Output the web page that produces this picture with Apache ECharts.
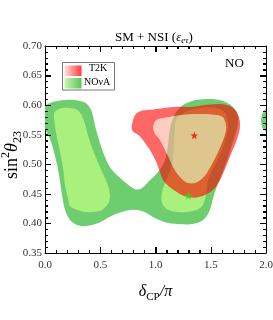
<!DOCTYPE html>
<html><head><meta charset="utf-8">
<script src="https://cdn.jsdelivr.net/npm/echarts@6/dist/echarts.min.js"></script>
<style>html,body{margin:0;padding:0;background:#fff}#c{width:273px;height:320px}</style>
</head><body><div id="c"></div>
<script>
// ---- data (delta_CP/pi, sin^2 theta23) ----
const xTickLabels = ['0.0','0.5','1.0','1.5','2.0'];
const yTickLabels = ['0.35','0.40','0.45','0.50','0.55','0.60','0.65','0.70'];

const novaOuter = [[-0.05,0.600],[0.000,0.600],[0.063,0.605],[0.136,0.608],[0.226,0.609],[0.317,0.607],[0.380,0.602],[0.425,0.588],[0.452,0.566],[0.489,0.541],[0.534,0.516],[0.588,0.495],[0.661,0.480],[0.742,0.467],[0.814,0.458],[0.878,0.460],[0.950,0.473],[1.023,0.487],[1.086,0.507],[1.113,0.533],[1.131,0.561],[1.176,0.585],[1.240,0.599],[1.330,0.607],[1.430,0.610],[1.538,0.610],[1.638,0.605],[1.710,0.595],[1.747,0.580],[1.738,0.561],[1.701,0.538],[1.647,0.507],[1.584,0.477],[1.529,0.448],[1.493,0.423],[1.439,0.407],[1.339,0.399],[1.204,0.399],[1.086,0.402],[0.995,0.409],[0.905,0.419],[0.814,0.423],[0.724,0.421],[0.606,0.413],[0.498,0.402],[0.389,0.396],[0.299,0.397],[0.226,0.406],[0.181,0.423],[0.154,0.448],[0.127,0.482],[0.100,0.507],[0.063,0.533],[0.027,0.550],[0.000,0.558],[-0.05,0.558]];
const novaOuterWrap = [[2.03,0.594],[1.985,0.591],[1.958,0.579],[1.960,0.566],[1.985,0.558],[2.03,0.556]];
const novaInnerLeft = [[0.090,0.589],[0.154,0.595],[0.226,0.595],[0.290,0.592],[0.332,0.583],[0.362,0.568],[0.392,0.547],[0.434,0.524],[0.482,0.502],[0.534,0.480],[0.573,0.462],[0.588,0.446],[0.573,0.434],[0.525,0.424],[0.468,0.420],[0.371,0.419],[0.287,0.423],[0.226,0.429],[0.211,0.440],[0.181,0.465],[0.166,0.490],[0.136,0.521],[0.106,0.547],[0.090,0.566],[0.081,0.580]];
const novaInnerRight = [[1.186,0.575],[1.267,0.588],[1.403,0.595],[1.538,0.595],[1.629,0.587],[1.656,0.566],[1.620,0.533],[1.538,0.499],[1.475,0.473],[1.457,0.448],[1.421,0.429],[1.339,0.421],[1.222,0.419],[1.113,0.423],[1.059,0.435],[1.059,0.453],[1.095,0.473],[1.149,0.499],[1.167,0.533],[1.176,0.558]];
const t2kOuter = [[0.785,0.564],[0.814,0.583],[0.869,0.590],[0.950,0.592],[1.161,0.597],[1.312,0.597],[1.430,0.600],[1.584,0.602],[1.690,0.597],[1.749,0.583],[1.765,0.564],[1.735,0.541],[1.674,0.513],[1.599,0.479],[1.523,0.457],[1.403,0.445],[1.282,0.445],[1.161,0.457],[1.071,0.473],[1.011,0.502],[0.950,0.524],[0.860,0.547],[0.799,0.555]];
const t2kInner = [[0.980,0.564],[1.011,0.575],[1.101,0.579],[1.222,0.583],[1.403,0.585],[1.584,0.582],[1.629,0.572],[1.638,0.558],[1.599,0.535],[1.538,0.510],[1.463,0.485],[1.387,0.471],[1.312,0.468],[1.252,0.473],[1.176,0.490],[1.116,0.513],[1.041,0.541],[0.995,0.552]];
const t2kBest = [1.351,0.549];
const novaBest = [1.297,0.447];

// ---- axis ranges / tick spacing ----
const X_MIN=0, X_MAX=2, X_MAJOR=0.5, X_MINOR=0.1;
const Y_MIN=0.35, Y_MAX=0.70, Y_MAJOR=0.05, Y_MINOR=0.01;

// ---- helpers ----
function area(p){let s=0;for(let i=0;i<p.length;i++){const a=p[i],b=p[(i+1)%p.length];s+=a[0]*b[1]-b[0]*a[1];}return s;}
function smooth(p){
  const n=p.length;let d='M'+p[0][0]+' '+p[0][1];
  for(let i=0;i<n;i++){
    const p0=p[(i-1+n)%n],p1=p[i],p2=p[(i+1)%n],p3=p[(i+2)%n];
    const c1=[p1[0]+(p2[0]-p0[0])/6,p1[1]+(p2[1]-p0[1])/6];
    const c2=[p2[0]-(p3[0]-p1[0])/6,p2[1]-(p3[1]-p1[1])/6];
    d+=' C'+c1[0]+' '+c1[1]+' '+c2[0]+' '+c2[1]+' '+p2[0]+' '+p2[1];
  }
  return d+' Z';
}
function region(name, outer, hole, color, z){
  return {type:'custom', name:name, coordinateSystem:'cartesian2d', clip:true, z:z, silent:true,
    data:[0],
    renderItem:function(params, api){
      const o=outer.map(q=>api.coord(q));
      let d=smooth(o);
      if(hole){
        let h=hole.map(q=>api.coord(q));
        if(Math.sign(area(h))===Math.sign(area(o))) h=h.slice().reverse();
        d+=' '+smooth(h);
      }
      return {type:'path', shape:{pathData:d}, style:{fill:color, stroke:null}};
    }};
}
// frame ticks on all four sides, positioned through the axis scales
const tickSeries={type:'custom',name:'ticks',coordinateSystem:'cartesian2d',clip:false,z:10,silent:true,data:[0],
  renderItem:function(params, api){
    const kids=[]; const st={stroke:'#000',lineWidth:1};
    const nx=Math.round((X_MAX-X_MIN)/X_MINOR), ny=Math.round((Y_MAX-Y_MIN)/Y_MINOR);
    const perX=Math.round(X_MAJOR/X_MINOR), perY=Math.round(Y_MAJOR/Y_MINOR);
    for(let i=0;i<=nx;i++){
      const v=X_MIN+i*X_MINOR, len=(i%perX===0)?6:3;
      const b=api.coord([v,Y_MIN]), t=api.coord([v,Y_MAX]);
      const x=Math.round(b[0])+0.5;
      kids.push({type:'line',shape:{x1:x,y1:b[1],x2:x,y2:b[1]-len},style:st});
      kids.push({type:'line',shape:{x1:x,y1:t[1],x2:x,y2:t[1]+len},style:st});
    }
    for(let j=0;j<=ny;j++){
      const v=Y_MIN+j*Y_MINOR, len=(j%perY===0)?6:3;
      const l=api.coord([X_MIN,v]), r=api.coord([X_MAX,v]);
      const y=Math.round(l[1])+0.5;
      kids.push({type:'line',shape:{x1:l[0],y1:y,x2:l[0]+len,y2:y},style:st});
      kids.push({type:'line',shape:{x1:r[0],y1:y,x2:r[0]-len,y2:y},style:st});
    }
    return {type:'group',children:kids};
  }};

const serif='"Liberation Serif","DejaVu Serif",serif';
const chart=echarts.init(document.getElementById('c'),null,{renderer:'canvas'});
function frameAxis(kind, labelColor, fmt){
  const ax={type:'value',
    axisLine:{show:true,onZero:false,lineStyle:{color:'#000',width:1}},
    axisTick:{show:true,inside:true,length:6,lineStyle:{color:'#000',width:1}},
    minorTick:{show:true,splitNumber:5,length:3,lineStyle:{color:'#000',width:1}},
    splitLine:{show:false},
    axisLabel:{show:true,margin:kind==='x'?7:3,fontFamily:serif,fontSize:11,color:labelColor,formatter:fmt}};
  if(kind==='x'){ax.min=X_MIN;ax.max=X_MAX;ax.interval=X_MAJOR;}
  else {ax.min=Y_MIN;ax.max=Y_MAX;ax.interval=Y_MAJOR;}
  return ax;
}
const fx=v=>xTickLabels[Math.round((v-X_MIN)/X_MAJOR)];
const fy=v=>yTickLabels[Math.round((v-Y_MIN)/Y_MAJOR)];
const option={
  animation:false,
  backgroundColor:'#fff',
  title:{text:'{a|SM + NSI (}{e|ε}{s|eτ}{a|)}',left:110,top:25,
    textStyle:{fontWeight:'normal',rich:{a:{fontFamily:serif,fontSize:13,fontWeight:'normal',color:'#000'},e:{fontFamily:serif,fontSize:13,fontWeight:'normal',fontStyle:'italic',color:'#000'},s:{fontFamily:serif,fontSize:9,fontWeight:'normal',fontStyle:'italic',color:'#000',verticalAlign:'bottom',padding:[6,0,0,0]}}}},
  grid:{left:45,right:7,top:46,bottom:67,containLabel:false,outerBoundsMode:'none'},
  xAxis:[frameAxis('x','#333',fx), frameAxis('x','rgba(0,0,0,0)',fx)],
  yAxis:[frameAxis('y','#333',fy), frameAxis('y','rgba(0,0,0,0)',fy)],
  graphic:[
    {type:'text',x:12,y:155,rotation:Math.PI/2,silent:true,
      style:{text:'{a|sin}{p|2}{t|θ}{s|23}',align:'center',verticalAlign:'middle',
        rich:{a:{fontFamily:serif,fontSize:18,lineHeight:24,fill:'#000'},p:{fontFamily:serif,fontSize:12,fill:'#000',verticalAlign:'top'},t:{fontFamily:serif,fontSize:18,lineHeight:24,fontStyle:'italic',fill:'#000'},s:{fontFamily:serif,fontSize:12,fill:'#000',verticalAlign:'bottom'}}}},
    {type:'text',x:155.5,y:292,silent:true,
      style:{text:'{d|δ}{s|CP}{n|/π}',align:'center',verticalAlign:'middle',
        rich:{d:{fontFamily:serif,fontSize:16,lineHeight:22,fontStyle:'italic',fill:'#000'},s:{fontFamily:serif,fontSize:11,fill:'#000',verticalAlign:'bottom'},n:{fontFamily:serif,fontSize:16,lineHeight:22,fontStyle:'italic',fill:'#000'}}}},
    {type:'text',left:225,top:57,style:{text:'NO',font:'13px '+serif,fill:'#000'}},
    {type:'rect',shape:{x:62.5,y:62.5,width:52,height:27.5},style:{fill:'#fff',stroke:'#777',lineWidth:1},z:100},
    {type:'rect',shape:{x:64.5,y:65.5,width:17,height:10.5},style:{fill:new echarts.graphic.LinearGradient(0,0,1,0,[{offset:0,color:'#ffe2dc'},{offset:1,color:'#ff3b3b'}])},z:101},
    {type:'rect',shape:{x:64.5,y:78,width:17,height:10.5},style:{fill:new echarts.graphic.LinearGradient(0,0,1,0,[{offset:0,color:'#c8f8b0'},{offset:1,color:'#5cc25c'}])},z:101},
    {type:'text',x:89,y:63,style:{text:'T2K',font:'10px '+serif,fill:'#000'},z:101},
    {type:'text',x:84,y:77,style:{text:'NOνA',font:'10px '+serif,fill:'#000'},z:101}
  ],
  series:[
    region('NOvA 3σ',novaOuter,null,'#6ecd6e',1),
    region('NOvA 3σ wrap',novaOuterWrap,null,'#6ecd6e',1),
    region('NOvA 1σ L',novaInnerLeft,null,'#aaf07c',2),
    region('NOvA 1σ R',novaInnerRight,null,'#aaf07c',2),
    region('T2K 3σ',t2kOuter,t2kInner,'rgba(255,0,0,0.6)',3),
    region('T2K 1σ',t2kInner,null,'rgba(255,172,155,0.62)',4),
    {type:'scatter',z:5,silent:true,symbol:'path://M50,0 L61,35 L98,35 L68,57 L79,91 L50,70 L21,91 L32,57 L2,35 L39,35 Z',symbolSize:8,itemStyle:{color:'#ff0000'},data:[t2kBest]},
    {type:'scatter',z:5,silent:true,symbol:'path://M50,0 L61,35 L98,35 L68,57 L79,91 L50,70 L21,91 L32,57 L2,35 L39,35 Z',symbolSize:8,itemStyle:{color:'#22e022'},data:[novaBest]},
    tickSeries
  ]
};
chart.setOption(option);
</script></body></html>
